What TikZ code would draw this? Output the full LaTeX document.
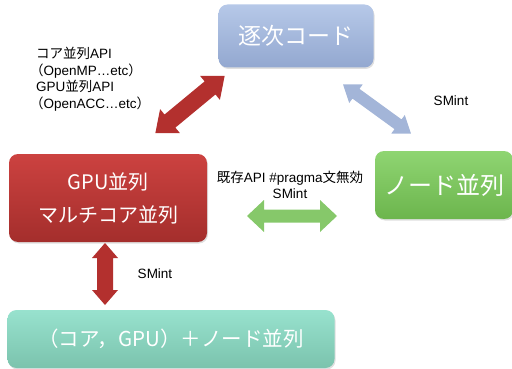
\documentclass[tikz,border=0pt]{standalone}
\usepackage{fontspec}
\setmainfont{Noto Sans CJK JP}
\newfontfamily\jp{Noto Sans CJK JP}
\newfontfamily\latin{Liberation Sans}
\usetikzlibrary{shadows}
\definecolor{bluetop}{HTML}{B6C8E8}
\definecolor{bluebot}{HTML}{93A8D0}
\definecolor{redtop}{HTML}{CC4240}
\definecolor{redbot}{HTML}{A42E2C}
\definecolor{greentop}{HTML}{8FD572}
\definecolor{greenbot}{HTML}{6CB54D}
\definecolor{tealtop}{HTML}{98E2CE}
\definecolor{tealbot}{HTML}{7BC3AD}
\definecolor{redarrow}{HTML}{B3302E}
\definecolor{bluearrow}{HTML}{A3B5D8}
\definecolor{greenarrow}{HTML}{86C86A}
\tikzset{
  box/.style={rounded corners=9pt, inner sep=0pt, text=white, align=center,
    drop shadow={shadow xshift=1pt, shadow yshift=-1.5pt, opacity=0.25}},
  lab/.style={font=\latin\fontsize{13.5}{16.7}\selectfont, inner sep=0pt},
  pics/blockarrow/.style args={#1/#2/#3/#4}{code={
    \fill (-#1/2,0) -- (-#1/2+#4,#2/2) -- (-#1/2+#4,#3/2) -- (#1/2-#4,#3/2)
      -- (#1/2-#4,#2/2) -- (#1/2,0) -- (#1/2-#4,-#2/2) -- (#1/2-#4,-#3/2)
      -- (-#1/2+#4,-#3/2) -- (-#1/2+#4,-#2/2) -- cycle;
  }}
}
\begin{document}
\begin{tikzpicture}[x=1pt,y=-1pt]
\useasboundingbox (0,0) rectangle (512,369);
% boxes
\node[box, top color=bluetop, bottom color=bluebot, minimum width=155pt, minimum height=63pt,
  font=\fontsize{23}{28}\selectfont] (seq) at (296,36) {逐次コード};
\node[box, top color=redtop, bottom color=redbot, minimum width=198pt, minimum height=88pt,
  font=\fontsize{20}{33}\selectfont] (gpu) at (108,198) {GPU並列\\マルチコア並列};
\node[box, top color=greentop, bottom color=greenbot, minimum width=138pt, minimum height=68pt,
  font=\fontsize{24}{28}\selectfont] (node) at (444,185) {ノード並列};
\node[box, top color=tealtop, bottom color=tealbot, minimum width=327pt, minimum height=58pt,
  font=\fontsize{20.5}{26}\selectfont] (hyb) at (171,339) {（コア，GPU）＋ノード並列};
% block arrows
\path (190,104.5) pic[rotate=39.6, fill=redarrow] (a1) {blockarrow={90/31/17/19}};
\path (377,109) pic[rotate=-36, fill=bluearrow] (a2) {blockarrow={84/23/12/16}};
\path (292,216) pic[fill=greenarrow] (a3) {blockarrow={90/32/13/17}};
\path (105,274) pic[rotate=90, fill=redarrow] (a4) {blockarrow={62/26/16/15}};
% labels
\node[lab, align=left, anchor=north west] (l1) at (36,47)
  {{\jp コア並列}API\\{\jp\hspace{-0.45em}（}OpenMP…etc{\jp ）}\\GPU{\jp 並列}API\\{\jp\hspace{-0.45em}（}OpenACC…etc{\jp ）}};
\node[lab] (l2) at (451,101) {SMint};
\node[lab, align=center] (l3) at (290,185) {{\jp 既存}API \#pragma{\jp 文無効}\\SMint};
\node[lab] (l4) at (155,274) {SMint};
\end{tikzpicture}
\end{document}
